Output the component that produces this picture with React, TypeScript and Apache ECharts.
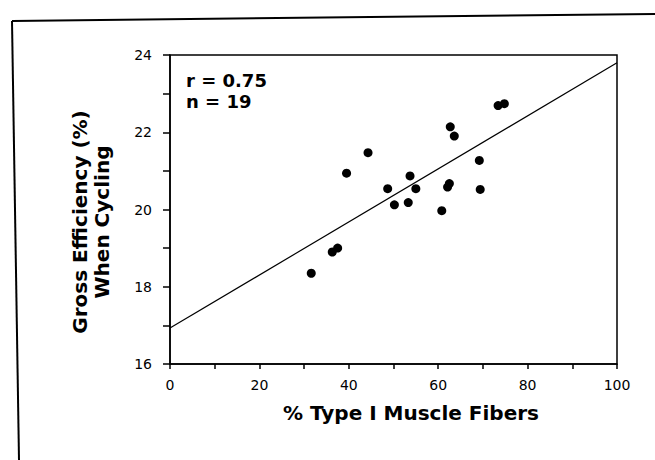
import React, { useEffect, useRef } from "react";
import * as echarts from "echarts";

// % Type I muscle fibers (x) and gross efficiency (%) (y) for the 19 subjects
const fiberPct = [31.6, 36.3, 37.5, 39.5, 44.3, 48.7, 50.2, 53.3, 53.7, 55.0, 60.8, 62.1, 62.5, 62.7, 63.6, 69.2, 69.4, 73.4, 74.8];
const efficiency = [18.35, 18.9, 19.0, 20.94, 21.47, 20.54, 20.12, 20.18, 20.87, 20.54, 19.97, 20.58, 20.67, 22.14, 21.9, 21.27, 20.52, 22.69, 22.74];

// regression line end points
const fitX = [0, 100];
const fitY = [16.93, 23.8];

// labelled ticks
const xTickLabels = [0, 20, 40, 60, 80, 100];
const yTickLabels = [16, 18, 20, 22, 24];

const annotation = ["r = 0.75", "n = 19"];
const xTitle = "% Type I Muscle Fibers";
const yTitleLines = ["Gross Efficiency (%)", "When Cycling"];

const FONT = "DejaVu Sans";

export default function App() {
  const ref = useRef<HTMLDivElement>(null);
  useEffect(() => {
    if (!ref.current) return;
    const chart = echarts.init(ref.current, null, { renderer: "svg" });
    const points = fiberPct.map((x, i) => [x, efficiency[i]]);
    const fit = fitX.map((x, i) => [x, fitY[i]]);
    chart.setOption({
      animation: false,
      backgroundColor: "#fff",
      grid: {
        left: 170,
        top: 55,
        right: 38,
        bottom: 96,
        show: true,
        borderColor: "#000",
        borderWidth: 1.5,
        backgroundColor: "transparent",
      },
      xAxis: {
        type: "value",
        min: 0,
        max: 100,
        interval: 10,
        axisLine: { show: true, onZero: false, lineStyle: { color: "#000", width: 1.5 } },
        axisTick: { show: true, inside: false, length: 5, lineStyle: { color: "#000", width: 1.5 } },
        splitLine: { show: false },
        axisLabel: {
          color: "#000",
          fontSize: 14,
          fontFamily: FONT,
          margin: 14,
          formatter: (v: number) => (xTickLabels.includes(v) ? String(v) : ""),
        },
      },
      yAxis: {
        type: "value",
        min: 16,
        max: 24,
        interval: 1,
        axisLine: { show: true, onZero: false, lineStyle: { color: "#000", width: 1.5 } },
        axisTick: { show: true, inside: false, length: 7, lineStyle: { color: "#000", width: 1.5 } },
        splitLine: { show: false },
        axisLabel: {
          color: "#000",
          fontSize: 14,
          fontFamily: FONT,
          margin: 18,
          formatter: (v: number) => (yTickLabels.includes(v) ? String(v) : ""),
        },
      },
      series: [
        {
          type: "line",
          data: fit,
          showSymbol: false,
          symbol: "none",
          lineStyle: { color: "#000", width: 1.2 },
          z: 2,
        },
        {
          type: "scatter",
          data: points,
          symbol: "circle",
          symbolSize: 9,
          itemStyle: { color: "#000", opacity: 1 },
          z: 3,
        },
      ],
      graphic: [
        {
          type: "line",
          shape: { x1: 12, y1: 21, x2: 655, y2: 14 },
          style: { stroke: "#000", lineWidth: 2 },
        },
        {
          type: "line",
          shape: { x1: 12, y1: 21, x2: 19, y2: 460 },
          style: { stroke: "#000", lineWidth: 2 },
        },
        {
          type: "text",
          x: 186,
          y: 70,
          style: {
            text: annotation.join("\n"),
            fontSize: 18,
            fontFamily: FONT,
            fontWeight: "bold",
            fill: "#000",
            lineHeight: 21,
            align: "left",
            verticalAlign: "top",
          },
        },
        {
          type: "text",
          x: 411,
          y: 413,
          style: {
            text: xTitle,
            fontSize: 20,
            fontFamily: FONT,
            fontWeight: "bold",
            fill: "#000",
            align: "center",
            verticalAlign: "middle",
          },
        },
        {
          type: "text",
          x: 91,
          y: 222,
          rotation: Math.PI / 2,
          style: {
            text: yTitleLines.join("\n"),
            fontSize: 20,
            fontFamily: FONT,
            fontWeight: "bold",
            fill: "#000",
            lineHeight: 22,
            align: "center",
            verticalAlign: "middle",
          },
        },
      ],
    });
    return () => chart.dispose();
  }, []);
  return (
    <div
      ref={ref}
      style={{ position: "absolute", left: 0, top: 0, width: 655, height: 460, background: "#fff" }}
    />
  );
}
